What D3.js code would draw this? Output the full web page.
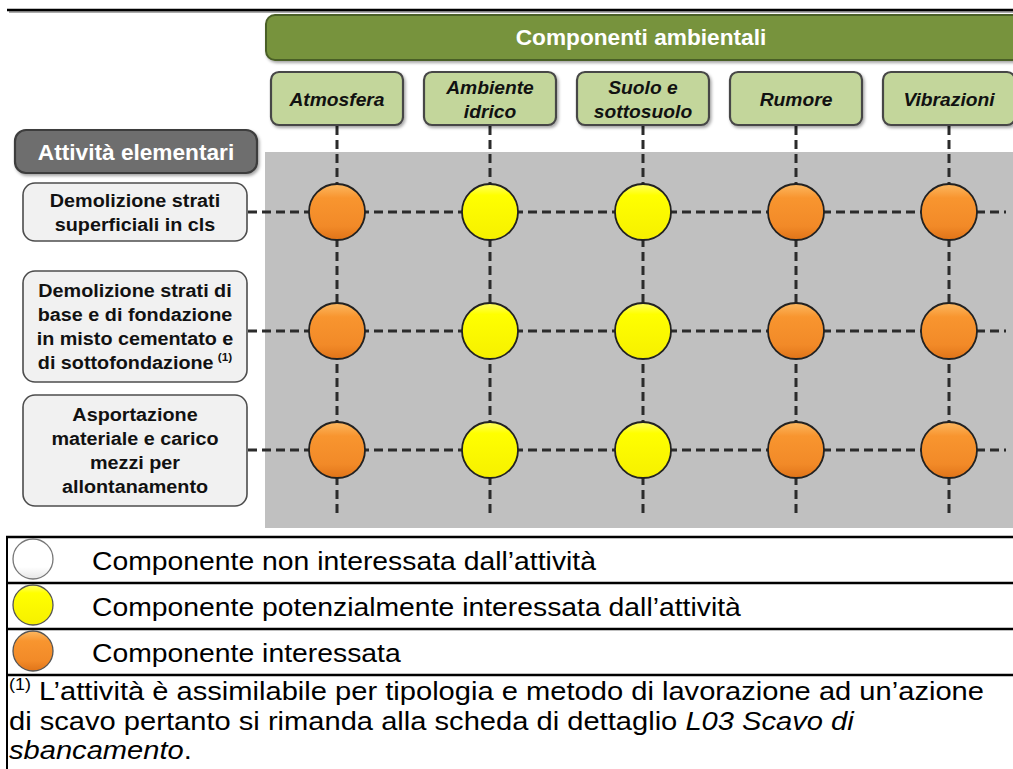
<!DOCTYPE html>
<html>
<head>
<meta charset="utf-8">
<script src="https://cdn.jsdelivr.net/npm/d3@7"></script>
<style>
  html, body { margin: 0; padding: 0; background: #ffffff; }
  svg { display: block; }
</style>
</head>
<body>
<div id="chart"></div>
<script>
// ---------------- DATA ----------------
const headerTitle = "Componenti ambientali";
const rowHeaderTitle = "Attività elementari";
const components = ["Atmosfera", "Ambiente idrico", "Suolo e sottosuolo", "Rumore", "Vibrazioni"];
const componentLines = [["Atmosfera"], ["Ambiente", "idrico"], ["Suolo e", "sottosuolo"], ["Rumore"], ["Vibrazioni"]];
const activities = ["Demolizione strati superficiali in cls",
                    "Demolizione strati di base e di fondazione in misto cementato e di sottofondazione",
                    "Asportazione materiale e carico mezzi per allontanamento"];
const activityLines = [["Demolizione strati", "superficiali in cls"],
                       ["Demolizione strati di", "base e di fondazione", "in misto cementato e", "di sottofondazione"],
                       ["Asportazione", "materiale e carico", "mezzi per", "allontanamento"]];
const activityNotes = ["", "(1)", ""];
const levels = ["non", "potenziale", "interessata"];
// impact level index per activity (rows) x component (columns)
const impact = [[2, 1, 1, 2, 2],
                [2, 1, 1, 2, 2],
                [2, 1, 1, 2, 2]];
const legendLabels = ["Componente non interessata dall\u2019attività",
                      "Componente potenzialmente interessata dall\u2019attività",
                      "Componente interessata"];
const footnoteMark = "(1)";
const footnoteLines = [
  [{t: "L\u2019attività è assimilabile per tipologia e metodo di lavorazione ad un\u2019azione", i: false}],
  [{t: "di scavo pertanto si rimanda alla scheda di dettaglio ", i: false}, {t: "L03 Scavo di", i: true}],
  [{t: "sbancamento", i: true}, {t: ".", i: false}]
];

// ---------------- SETUP ----------------
const W = 1013, H = 769;
const svg = d3.select("#chart").append("svg").attr("width", W).attr("height", H)
  .style("font-family", "'Liberation Sans', Arial, sans-serif");
svg.append("rect").attr("width", W).attr("height", H).attr("fill", "#fff");

const defs = svg.append("defs");
const sh = defs.append("filter").attr("id", "shadow").attr("x", "-10%").attr("y", "-10%").attr("width", "130%").attr("height", "140%");
sh.append("feDropShadow").attr("dx", 1.5).attr("dy", 2).attr("stdDeviation", 1.5).attr("flood-color", "#000").attr("flood-opacity", 0.35);

function radial(id, stops) {
  const g = defs.append("linearGradient").attr("id", id).attr("x1", 0).attr("y1", 0).attr("x2", 0).attr("y2", 1);
  stops.forEach(s => g.append("stop").attr("offset", s[0]).attr("stop-color", s[1]));
}
radial("gOrange", [[0, "#fcb861"], [0.25, "#f8952f"], [0.75, "#f28a28"], [1, "#e07419"]]);
radial("gYellow", [[0, "#ffff66"], [0.2, "#ffff00"], [1, "#f6f000"]]);
radial("gWhite", [[0, "#ffffff"], [0.7, "#ffffff"], [1, "#e6e6e6"]]);
const fills = {non: "url(#gWhite)", potenziale: "url(#gYellow)", interessata: "url(#gOrange)"};
const strokes = {non: "#666", potenziale: "#222", interessata: "#222"};

// scales
const x = d3.scalePoint().domain(components).range([337, 949]);
const y = d3.scalePoint().domain(activities).range([212, 450]);

// ---------------- TOP RULE ----------------
svg.append("line").attr("x1", 9).attr("x2", W).attr("y1", 12).attr("y2", 12).attr("stroke", "#aaa").attr("stroke-width", 2);
svg.append("line").attr("x1", 7).attr("x2", W).attr("y1", 10).attr("y2", 10).attr("stroke", "#000").attr("stroke-width", 2.5);

// ---------------- GRAY PANEL ----------------
svg.append("rect").attr("x", 265).attr("y", 152).attr("width", W - 265).attr("height", 376).attr("fill", "#c0c0c0");

// ---------------- GREEN HEADER ----------------
svg.append("rect").attr("x", 266).attr("y", 15).attr("width", 770).attr("height", 45).attr("rx", 9)
  .attr("fill", "#77933c").attr("stroke", "#4a5f26").attr("stroke-width", 2).attr("filter", "url(#shadow)");
svg.append("text").attr("transform", "translate(641,45) scale(1.03,1)").attr("text-anchor", "middle")
  .attr("font-size", 22).attr("font-weight", "bold").attr("fill", "#fff").text(headerTitle);

// ---------------- DASHED GRID ----------------
const dash = "9,5";
svg.append("g").selectAll("line").data(components).join("line")
  .attr("x1", d => x(d)).attr("x2", d => x(d)).attr("y1", 126).attr("y2", 513)
  .attr("stroke", "#2b2b2b").attr("stroke-width", 3).attr("stroke-dasharray", dash);
svg.append("g").selectAll("line").data(activities).join("line")
  .attr("x1", 248).attr("x2", 1006).attr("y1", d => y(d)).attr("y2", d => y(d))
  .attr("stroke", "#2b2b2b").attr("stroke-width", 3).attr("stroke-dasharray", dash);

// ---------------- COLUMN BOXES ----------------
const colW = 132;
const colG = svg.append("g").selectAll("g").data(components).join("g");
colG.append("rect").attr("x", d => x(d) - colW / 2).attr("y", 72).attr("width", colW).attr("height", 53).attr("rx", 8)
  .attr("fill", "#c3d69b").attr("stroke", "#474747").attr("stroke-width", 2.2).attr("filter", "url(#shadow)");
colG.each(function(d, i) {
  const lines = componentLines[i];
  const g = d3.select(this);
  lines.forEach((ln, j) => {
    const by = lines.length === 1 ? 106 : 94 + j * 24;
    g.append("text").attr("transform", `translate(${x(d)},${by}) scale(1.1,1)`).attr("text-anchor", "middle")
      .attr("font-size", 17.5).attr("font-weight", "bold").attr("font-style", "italic").attr("fill", "#111").text(ln);
  });
});

// ---------------- ROW HEADER ----------------
svg.append("rect").attr("x", 15).attr("y", 130).attr("width", 242).attr("height", 43).attr("rx", 11)
  .attr("fill", "#6e6e6e").attr("stroke", "#3d3d3d").attr("stroke-width", 2.2).attr("filter", "url(#shadow)");
svg.append("text").attr("transform", "translate(136,160) scale(1.03,1)").attr("text-anchor", "middle")
  .attr("font-size", 22).attr("font-weight", "bold").attr("fill", "#fff").text(rowHeaderTitle);

// ---------------- ROW BOXES ----------------
const rowBoxes = [[183, 241], [271, 382], [395, 506]];
activities.forEach((a, i) => {
  const [t, b] = rowBoxes[i];
  svg.append("rect").attr("x", 23).attr("y", t).attr("width", 224).attr("height", b - t).attr("rx", 12)
    .attr("fill", "#f1f1f1").attr("stroke", "#4d4d4d").attr("stroke-width", 1.6);
  const lines = activityLines[i];
  const cy = (t + b) / 2;
  lines.forEach((ln, j) => {
    const by = cy + (j - (lines.length - 1) / 2) * 24 + 6.5;
    const tx = svg.append("text").attr("transform", `translate(135,${by}) scale(1.07,1)`).attr("text-anchor", "middle")
      .attr("font-size", 18.5).attr("font-weight", "bold").attr("fill", "#111");
    tx.append("tspan").text(ln);
    if (j === lines.length - 1 && activityNotes[i]) {
      tx.append("tspan").attr("font-size", 11).attr("dy", -8).attr("dx", 4).text(activityNotes[i]);
    }
  });
});

// ---------------- CIRCLES ----------------
const cells = [];
activities.forEach((a, r) => components.forEach((c, k) => cells.push({a, c, lvl: levels[impact[r][k]]})));
svg.append("g").selectAll("circle").data(cells).join("circle")
  .attr("cx", d => x(d.c)).attr("cy", d => y(d.a)).attr("r", 28)
  .attr("fill", d => fills[d.lvl]).attr("stroke", d => strokes[d.lvl]).attr("stroke-width", 1.8);

// ---------------- LEGEND TABLE ----------------
const legTop = 537, rowH = 46;
const ly = d3.scalePoint().domain(levels).range([legTop + rowH / 2, legTop + rowH * 2.5]);
svg.append("line").attr("x1", 7).attr("x2", 7).attr("y1", legTop).attr("y2", H).attr("stroke", "#000").attr("stroke-width", 2);
svg.append("g").selectAll("line").data(d3.range(4)).join("line")
  .attr("x1", 6).attr("x2", W).attr("y1", d => legTop + d * rowH).attr("y2", d => legTop + d * rowH)
  .attr("stroke", "#000").attr("stroke-width", 2.4);
svg.append("g").selectAll("circle").data(levels).join("circle")
  .attr("cx", 33).attr("cy", d => ly(d) - 1).attr("r", 20)
  .attr("fill", d => fills[d]).attr("stroke", d => d === "non" ? "#777" : "#555").attr("stroke-width", 1.3);
svg.append("g").selectAll("text").data(levels).join("text")
  .attr("transform", d => `translate(92,${ly(d) + 9.5}) scale(1.09,1)`)
  .attr("font-size", 26).attr("fill", "#000").text((d, i) => legendLabels[i]);

// ---------------- FOOTNOTE ----------------
const fBase = [700, 729.5, 759];
footnoteLines.forEach((parts, i) => {
  const t = svg.append("text").attr("transform", `translate(9,${fBase[i]}) scale(1.12,1)`)
    .attr("font-size", 26).attr("fill", "#000");
  if (i === 0) {
    t.append("tspan").attr("font-size", 16).attr("dy", -10).text(footnoteMark);
    t.append("tspan").attr("dy", 10).text(" ");
  }
  parts.forEach(p => t.append("tspan").attr("font-style", p.i ? "italic" : "normal").text(p.t));
});
</script>
</body>
</html>
